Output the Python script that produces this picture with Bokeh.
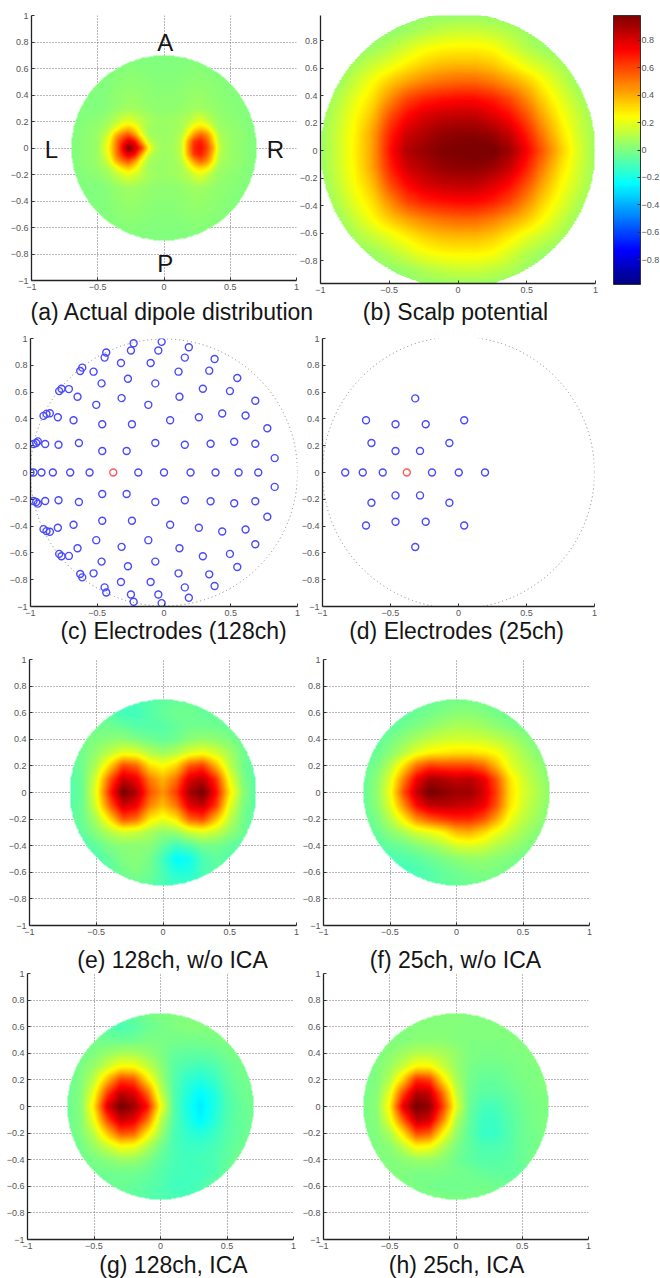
import numpy as np
from bokeh.embed import file_html
from bokeh.resources import INLINE
from bokeh.plotting import figure
from bokeh.layouts import column, row
from bokeh.models import (ColorBar, FixedTicker, Label, LinearColorMapper, Range1d)

FONT = "Liberation Sans"

# ---------- ticks ----------
x_ticks = [-1, -0.5, 0, 0.5, 1]
x_labels = ["\u22121", "\u22120.5", "0", "0.5", "1"]
y_ticks = [-1, -0.8, -0.6, -0.4, -0.2, 0, 0.2, 0.4, 0.6, 0.8, 1]
y_labels = ["\u22121", "\u22120.8", "\u22120.6", "\u22120.4", "\u22120.2", "0", "0.2", "0.4", "0.6", "0.8", "1"]
bar_ticks = [-0.8, -0.6, -0.4, -0.2, 0, 0.2, 0.4, 0.6, 0.8]
bar_labels = ["\u22120.8", "\u22120.6", "\u22120.4", "\u22120.2", "0", "0.2", "0.4", "0.6", "0.8"]

captions = ["(a) Actual dipole distribution", "(b) Scalp potential",
            "(c) Electrodes (128ch)", "(d) Electrodes (25ch)",
            "(e) 128ch, w/o ICA", "(f) 25ch, w/o ICA",
            "(g) 128ch, ICA", "(h) 25ch, ICA"]

# ---------- electrodes ----------
c128_x = [-0.2275, -0.0175, -0.2475, -0.0425, -0.4325, -0.445, -0.3225, -0.10, -0.6125, -0.6275, -0.5275, -0.27,
          -0.4675, -0.065, -0.7675, -0.785, -0.7125, -0.6475, -0.3175, -0.5075, -0.1175, -0.855, -0.88, -0.9025,
          -0.795, -0.6775, -0.4625, -0.24, -0.945, -0.9575, -0.9775, -0.89, -0.79, -0.6375, -0.065, -0.4625, -0.28,
          0.186, 0.156, 0.379, 0.109, 0.339, 0.549, 0.291, 0.494, 0.116, 0.684, 0.436, 0.261, 0.611, 0.046, 0.774,
          0.156, 0.349, 0.526, 0.684, 0.829,
          -1.0, -0.9775, -0.9175, -0.8325, -0.7025, -0.5575, -0.1925, 0.0, 0.199, 0.386, 0.559, 0.706,
          -0.2275, -0.0175, -0.2475, -0.0425, -0.4325, -0.445, -0.3225, -0.10, -0.6125, -0.6275, -0.5275, -0.27,
          -0.4675, -0.065, -0.7675, -0.785, -0.7125, -0.6475, -0.3175, -0.5075, -0.1175, -0.855, -0.88, -0.9025,
          -0.795, -0.6775, -0.4625, -0.24, -0.945, -0.9575, -0.9775, -0.89, -0.79, -0.6375, -0.065, -0.4625, -0.28,
          0.186, 0.156, 0.379, 0.109, 0.339, 0.549, 0.291, 0.494, 0.116, 0.684, 0.436, 0.261, 0.611, 0.046, 0.774,
          0.156, 0.349, 0.526, 0.684, 0.829]
c128_y = [0.965, 0.975, 0.91, 0.91, 0.895, 0.8575, 0.8175, 0.8175, 0.7825, 0.7575, 0.7525, 0.70,
          0.665, 0.665, 0.625, 0.6075, 0.6225, 0.565, 0.555, 0.505, 0.505, 0.4425, 0.4375, 0.4225,
          0.4125, 0.39, 0.36, 0.36, 0.2325, 0.22, 0.2125, 0.2125, 0.2075, 0.22, 0.22, 0.16, 0.16,
          0.935, 0.8575, 0.8475, 0.7525, 0.76, 0.705, 0.625, 0.6075, 0.565, 0.535, 0.44, 0.4125, 0.425, 0.39, 0.33,
          0.2075, 0.215, 0.23, 0.215, 0.1075,
          0, 0, 0, 0, 0, 0, 0, 0, 0, 0, 0, 0,
          -0.965, -0.975, -0.91, -0.91, -0.895, -0.8575, -0.8175, -0.8175, -0.7825, -0.7575, -0.7525, -0.70,
          -0.665, -0.665, -0.625, -0.6075, -0.6225, -0.565, -0.555, -0.505, -0.505, -0.4425, -0.4375, -0.4225,
          -0.4125, -0.39, -0.36, -0.36, -0.2325, -0.22, -0.2125, -0.2125, -0.2075, -0.22, -0.22, -0.16, -0.16,
          -0.935, -0.8575, -0.8475, -0.7525, -0.76, -0.705, -0.625, -0.6075, -0.565, -0.535, -0.44, -0.4125, -0.425, -0.39, -0.33,
          -0.2075, -0.215, -0.23, -0.215, -0.1075]
c25_x = [-0.318, -0.68, -0.463, -0.241, 0.042, -0.64, -0.067, -0.463, -0.283,
         -0.833, -0.704, -0.557, -0.195, 0.002, 0.195,
         -0.463, -0.283, -0.64, -0.067, -0.463, -0.241, -0.68, 0.042, -0.318]
c25_y = [0.553, 0.39, 0.36, 0.36, 0.39, 0.22, 0.22, 0.161, 0.161,
         0, 0, 0, 0, 0, 0,
         -0.171, -0.171, -0.226, -0.226, -0.367, -0.367, -0.395, -0.395, -0.556]
dipole_x = [-0.38]
dipole_y = [0]

# ---------- potential maps: rows run from top (+y) to bottom (-y) ----------
a_xs = [-0.7, -0.5, -0.42, -0.36, -0.32, -0.27, -0.22, -0.17, -0.12, -0.07, 0, 0.08, 0.13, 0.18, 0.23, 0.28, 0.33, 0.38, 0.42, 0.5, 0.7]
a_ys = [0.7, 0.3, 0.2, 0.15, 0.1, 0.05, 0, -0.05, -0.1, -0.15, -0.2, -0.3, -0.7]
a_rows = [
    [0, 0, 0, 0, 0, 0, 0, 0, 0, 0, 0, 0, 0, 0, 0, 0, 0, 0, 0, 0, 0],
    [0, 0, .02, .04, .05, .06, .06, .05, .04, .03, .03, .03, .04, .05, .06, .06, .05, .04, .03, .02, 0],
    [0, .03, .06, .12, .16, .2, .16, .12, .08, .06, .05, .06, .08, .1, .16, .2, .13, .08, .05, .03, 0],
    [0, .04, .1, .2, .3, .36, .28, .15, .06, .05, .05, .06, .07, .16, .28, .33, .28, .12, .06, .04, 0],
    [0, .05, .16, .4, .5, .58, .45, .22, .08, .06, .05, .06, .1, .26, .45, .55, .45, .25, .08, .05, 0],
    [0, .05, .22, .5, .65, .8, .72, .42, .14, .08, .05, .07, .12, .4, .64, .68, .55, .3, .1, .05, 0],
    [0, .05, .25, .5, .72, 1.0, .85, .65, .3, .1, .05, .08, .12, .42, .68, .72, .6, .38, .12, .05, 0],
    [0, .05, .22, .5, .65, .8, .72, .42, .14, .08, .05, .07, .12, .4, .64, .68, .55, .3, .1, .05, 0],
    [0, .05, .16, .4, .5, .58, .45, .22, .08, .06, .05, .06, .1, .26, .45, .55, .45, .25, .08, .05, 0],
    [0, .04, .1, .2, .3, .36, .28, .15, .06, .05, .05, .06, .07, .16, .28, .33, .28, .12, .06, .04, 0],
    [0, .03, .06, .12, .16, .2, .16, .12, .08, .06, .05, .06, .08, .1, .16, .2, .13, .08, .05, .03, 0],
    [0, 0, .02, .04, .05, .06, .06, .05, .04, .03, .03, .03, .04, .05, .06, .06, .05, .04, .03, .02, 0],
    [0, 0, 0, 0, 0, 0, 0, 0, 0, 0, 0, 0, 0, 0, 0, 0, 0, 0, 0, 0, 0],
]

b_xs = [-1, -.875, -.75, -.625, -.5, -.375, -.25, -.125, 0, .125, .25, .375, .5, .625, .75, .875, 1]
b_ys = [1, .875, .75, .625, .5, .375, .25, .125, 0, -.125, -.25, -.375, -.5, -.625, -.75, -.875, -1]
b_rows = [
    [.03, .03, .03, .03, .03, .03, .03, .03, .03, .03, .03, .03, .03, .03, .03, .03, .03],
    [.03, .03, .03, .03, .03, .05, .09, .12, .14, .14, .12, .09, .05, .03, .03, .03, .03],
    [.03, .03, .03, .05, .1, .16, .22, .25, .26, .26, .24, .17, .1, .05, .03, .03, .03],
    [.03, .03, .08, .14, .2, .27, .33, .37, .38, .38, .35, .28, .2, .14, .08, .03, .03],
    [.03, .05, .14, .24, .34, .42, .48, .52, .54, .54, .5, .43, .35, .24, .14, .05, .03],
    [.03, .1, .2, .3, .46, .6, .67, .7, .72, .72, .68, .6, .47, .32, .2, .1, .03],
    [.04, .13, .24, .36, .58, .72, .8, .84, .85, .85, .8, .72, .58, .4, .25, .14, .05],
    [.05, .15, .26, .42, .66, .82, .88, .93, .95, .95, .92, .84, .68, .48, .3, .16, .06],
    [.05, .15, .27, .42, .7, .88, .93, .97, .98, 1.0, 1.0, .92, .75, .55, .35, .18, .06],
    [.05, .15, .26, .42, .66, .82, .88, .93, .95, .95, .92, .84, .68, .48, .3, .16, .06],
    [.04, .13, .24, .36, .58, .72, .8, .84, .85, .85, .8, .72, .58, .4, .25, .14, .05],
    [.03, .1, .2, .3, .46, .6, .67, .7, .72, .72, .68, .6, .47, .32, .2, .1, .03],
    [.03, .05, .14, .24, .34, .42, .48, .52, .54, .54, .5, .43, .35, .24, .14, .05, .03],
    [.03, .03, .08, .14, .2, .27, .33, .37, .38, .38, .35, .28, .2, .14, .08, .03, .03],
    [.03, .03, .03, .05, .1, .16, .22, .25, .26, .26, .24, .17, .1, .05, .03, .03, .03],
    [.03, .03, .03, .03, .03, .05, .09, .12, .14, .14, .12, .09, .05, .03, .03, .03, .03],
    [.03, .03, .03, .03, .03, .03, .03, .03, .03, .03, .03, .03, .03, .03, .03, .03, .03],
]

g_xs = [-.7, -.6, -.5, -.4, -.3, -.2, -.1, 0, .1, .2, .3, .4, .5, .6, .7]
g_ys = [.7, .6, .5, .4, .3, .2, .1, 0, -.1, -.2, -.3, -.4, -.5, -.6, -.7]

e_rows = [
    [-.06, -.06, -.06, -.08, -.1, -.1, -.08, -.06, -.05, -.05, -.06, -.06, -.08, -.08, -.08],
    [-.05, -.05, -.05, -.08, -.12, -.12, -.08, -.05, -.03, -.03, -.05, -.05, -.08, -.08, -.08],
    [-.03, -.03, -.03, -.03, -.05, -.08, -.08, -.08, -.05, -.03, -.03, -.03, -.05, -.08, -.08],
    [-.03, -.02, 0, .02, .03, 0, -.03, -.05, -.03, .02, .04, .03, 0, -.05, -.08],
    [-.05, -.02, .04, .12, .2, .18, .1, .06, .1, .18, .22, .16, .07, -.02, -.08],
    [-.08, -.02, .1, .32, .6, .54, .3, .24, .32, .57, .62, .38, .12, -.02, -.08],
    [-.08, -.03, .18, .56, .84, .76, .5, .38, .52, .8, .86, .64, .22, 0, -.08],
    [-.1, -.03, .22, .66, 1.0, .88, .58, .45, .62, .9, 1.0, .72, .3, .03, -.08],
    [-.08, -.03, .18, .54, .82, .75, .48, .36, .5, .78, .84, .62, .2, 0, -.08],
    [-.08, -.03, .08, .3, .58, .52, .28, .2, .28, .54, .6, .36, .12, -.02, -.08],
    [-.1, -.05, .02, .1, .16, .14, .08, .03, .05, .14, .18, .13, .04, -.03, -.08],
    [-.12, -.1, -.05, 0, .02, .02, .02, -.05, -.12, -.08, -.02, -.02, -.05, -.08, -.1],
    [-.12, -.12, -.1, -.05, 0, .02, -.02, -.12, -.25, -.22, -.1, -.06, -.08, -.1, -.1],
    [-.1, -.1, -.1, -.08, -.02, 0, -.03, -.1, -.18, -.18, -.1, -.07, -.08, -.1, -.1],
    [-.1, -.1, -.1, -.08, -.06, -.05, -.06, -.1, -.12, -.12, -.1, -.08, -.08, -.1, -.1],
]

f_rows = [
    [-.08, -.08, -.08, -.06, -.05, -.04, -.03, -.02, -.02, -.02, -.03, -.04, -.05, -.05, -.05],
    [-.08, -.08, -.08, -.06, -.04, -.02, 0, .02, .02, 0, -.02, -.04, -.05, -.05, -.05],
    [-.08, -.08, -.06, -.03, 0, .03, .06, .08, .08, .06, .03, 0, -.02, -.04, -.05],
    [-.08, -.06, -.02, .03, .08, .12, .15, .16, .16, .15, .12, .08, .03, -.01, -.04],
    [-.06, -.04, .02, .1, .2, .26, .28, .3, .3, .28, .24, .16, .08, .02, -.02],
    [-.05, -.01, .1, .3, .52, .62, .6, .6, .6, .54, .38, .2, .12, .06, 0],
    [-.05, .02, .18, .48, .76, .9, .88, .84, .86, .78, .58, .3, .16, .08, .02],
    [-.05, .03, .22, .58, .85, 1.0, .96, .92, .92, .82, .62, .32, .18, .1, .03],
    [-.05, .02, .18, .45, .72, .84, .86, .84, .82, .76, .58, .3, .16, .08, .02],
    [-.06, -.01, .1, .26, .46, .56, .62, .66, .66, .58, .42, .22, .12, .06, 0],
    [-.07, -.04, .02, .08, .16, .2, .26, .38, .4, .32, .22, .14, .07, .02, -.01],
    [-.1, -.08, -.05, -.03, .01, .05, .1, .16, .18, .16, .1, .06, .02, -.01, -.03],
    [-.1, -.1, -.1, -.09, -.07, -.04, -.01, .02, .04, .04, .02, 0, -.02, -.03, -.04],
    [-.1, -.1, -.1, -.12, -.1, -.08, -.05, -.03, -.01, 0, -.01, -.02, -.03, -.04, -.05],
    [-.08, -.08, -.08, -.08, -.08, -.08, -.06, -.05, -.04, -.03, -.03, -.03, -.04, -.05, -.05],
]

g_rows = [
    [0, 0, 0, -.04, -.05, -.04, -.02, 0, 0, 0, 0, 0, 0, 0, 0],
    [-.02, -.02, -.05, -.08, -.1, -.08, -.04, -.02, 0, .01, .01, .01, .01, 0, 0],
    [-.02, -.02, -.02, -.03, -.04, -.03, -.01, -.01, -.02, -.02, -.02, -.01, 0, 0, 0],
    [-.02, -.02, 0, .04, .08, .08, .04, 0, -.05, -.06, -.06, -.05, -.02, -.01, 0],
    [-.03, -.01, .05, .15, .25, .24, .14, .03, -.07, -.1, -.12, -.1, -.05, -.02, -.01],
    [-.04, 0, .12, .38, .62, .58, .3, .07, -.08, -.15, -.18, -.14, -.07, -.03, -.02],
    [-.04, .01, .22, .62, .86, .8, .55, .14, -.08, -.18, -.25, -.19, -.09, -.04, -.02],
    [-.04, .01, .3, .8, 1.0, .92, .72, .24, -.08, -.2, -.28, -.2, -.1, -.05, -.03],
    [-.04, .01, .22, .6, .84, .78, .53, .12, -.08, -.18, -.26, -.18, -.09, -.05, -.03],
    [-.04, 0, .12, .36, .58, .55, .28, .06, -.1, -.15, -.18, -.14, -.08, -.05, -.03],
    [-.04, -.02, .05, .14, .24, .22, .1, -.02, -.1, -.13, -.13, -.11, -.07, -.04, -.03],
    [-.04, -.03, -.01, .02, .05, .05, 0, -.06, -.1, -.12, -.11, -.1, -.06, -.02, 0],
    [-.04, -.04, -.03, -.03, -.03, -.03, -.05, -.08, -.11, -.12, -.12, -.1, -.04, .02, .03],
    [-.04, -.04, -.04, -.04, -.04, -.05, -.07, -.09, -.12, -.12, -.1, -.05, 0, .03, .03],
    [-.04, -.04, -.04, -.04, -.05, -.06, -.08, -.09, -.1, -.1, -.08, -.04, 0, .02, .02],
]

h_rows = [
    [.01, .01, .01, .01, .01, .01, .01, .01, .01, .01, .01, .01, .01, .01, .01],
    [.01, .01, .01, .01, .01, .01, .01, .01, 0, 0, 0, 0, 0, 0, 0],
    [0, 0, 0, 0, .02, .02, .02, .01, 0, 0, 0, 0, 0, 0, 0],
    [0, 0, .02, .06, .1, .1, .08, .04, 0, -.01, -.01, 0, 0, 0, 0],
    [0, 0, .05, .14, .26, .26, .14, .05, -.01, -.03, -.03, -.02, 0, 0, 0],
    [-.01, 0, .1, .34, .66, .62, .3, .08, -.02, -.05, -.05, -.03, -.01, 0, 0],
    [-.01, .01, .2, .6, .88, .84, .52, .14, -.03, -.07, -.07, -.05, -.02, 0, 0],
    [-.01, .02, .27, .78, 1.0, .94, .62, .2, -.04, -.11, -.11, -.07, -.03, -.01, 0],
    [-.01, .01, .2, .56, .86, .82, .48, .1, -.05, -.13, -.13, -.08, -.04, -.01, 0],
    [-.01, 0, .08, .3, .6, .56, .26, .04, -.06, -.14, -.14, -.09, -.04, -.02, 0],
    [0, 0, .02, .12, .26, .24, .1, 0, -.06, -.1, -.1, -.08, -.04, -.02, 0],
    [0, 0, 0, .02, .05, .05, .02, -.03, -.06, -.08, -.08, -.07, -.04, -.01, 0],
    [0, 0, 0, 0, -.01, -.01, -.01, -.02, -.03, -.05, -.06, -.06, -.05, -.03, -.01],
    [0, 0, 0, 0, -.01, -.02, -.03, -.03, -.03, -.02, -.03, -.03, -.02, -.01, 0],
    [0, 0, 0, 0, 0, 0, 0, -.01, -.01, -.01, -.01, -.01, 0, 0, 0],
]

# ---------- colour ----------
pos = np.linspace(0, 1, 256)
red = np.interp(pos, [0, .375, .625, .875, 1], [0, 0, 1, 1, .5])
green = np.interp(pos, [0, .125, .375, .625, .875, 1], [0, 0, 1, 1, 0, 0])
blue = np.interp(pos, [0, .125, .375, .625, 1], [.5, 1, 1, 0, 0])
jet = ["#%02x%02x%02x" % (int(r * 255), int(g * 255), int(b * 255)) for r, g, b in zip(red, green, blue)]
mapper = LinearColorMapper(palette=jet, low=-0.98, high=0.98, nan_color="rgba(0,0,0,0)")

N = 401
grid = np.linspace(-1, 1, N)


def smooth(a, w=9):
    k = np.ones(w) / w
    pad = w // 2
    a = np.pad(a, pad, mode="edge")
    a = np.apply_along_axis(lambda v: np.convolve(v, k, mode="valid"), 0, a)
    a = np.apply_along_axis(lambda v: np.convolve(v, k, mode="valid"), 1, a)
    return a


def field(xs, ys, rows, radius, w=9):
    z = np.array(rows, dtype=float)[::-1]
    ya = np.array(ys, dtype=float)[::-1]
    across = np.array([np.interp(grid, xs, r) for r in z])
    full = np.array([np.interp(grid, ya, c) for c in across.T]).T
    full = smooth(full, w)
    xx, yy = np.meshgrid(grid, grid)
    full[xx ** 2 + yy ** 2 > radius ** 2] = np.nan
    return full.astype(np.float32)


def panel(left, top, fw, fh, right, bottom, yr=(-1, 1), yt=y_ticks, yl=y_labels, gridlines=True, shift=0):
    p = figure(frame_width=fw, frame_height=fh, x_range=Range1d(-1, 1), y_range=Range1d(*yr),
               toolbar_location=None, output_backend="svg",
               min_border_left=left, min_border_top=top, min_border_right=right, min_border_bottom=bottom,
               background_fill_color=None, border_fill_color=None, outline_line_color=None)
    if shift:
        p.margin = (0, 0, 0, shift)
    for ax, ticks, labels in ((p.xaxis[0], x_ticks, x_labels), (p.yaxis[0], yt, yl)):
        ax.ticker = FixedTicker(ticks=ticks)
        ax.major_label_overrides = dict(zip(ticks, labels))
        ax.major_label_text_font = FONT
        ax.major_label_text_font_size = "9px"
        ax.major_label_text_color = "#555555"
        ax.major_tick_in = 3
        ax.major_tick_out = 0
        ax.major_tick_line_color = "#333333"
        ax.minor_tick_line_color = None
        ax.axis_line_color = "#222222"
        ax.axis_line_width = 1.3
        ax.major_label_standoff = 3
    if gridlines:
        p.grid.grid_line_color = "#707070"
        p.grid.grid_line_dash = "1 2"
        p.grid.grid_line_width = 1
        p.xgrid.ticker = FixedTicker(ticks=x_ticks)
        p.ygrid.ticker = FixedTicker(ticks=yt)
    else:
        p.grid.visible = False
    return p


def heat(p, xs, ys, rows, radius=0.7, w=5):
    p.image(image=[field(xs, ys, rows, radius, w)], x=-1, y=-1, dw=2, dh=2, color_mapper=mapper)


def strip(height, entries, baseline, over_top=10, over_bottom=6):
    total = height + over_top + over_bottom
    s = figure(width=660, height=total, x_range=Range1d(0, 660), y_range=Range1d(-over_bottom, height + over_top),
               toolbar_location=None, output_backend="svg", min_border=0,
               background_fill_color=None, border_fill_color=None, outline_line_color=None)
    s.axis.visible = False
    s.grid.visible = False
    for text, cx in entries:
        s.add_layout(Label(x=cx, y=baseline, text=text, text_align="center", text_baseline="alphabetic",
                           text_font=FONT, text_font_size="23px", text_color="#151515"))
    s.margin = (-over_top, 0, -over_bottom, 0)
    return s


# ---------- row 1 ----------
pa = panel(31, 15, 265, 265, 6, 18)
heat(pa, a_xs, a_ys, a_rows, w=5)
for txt, lx, ly in (("A", 0.01, 0.8), ("L", -0.85, -0.01), ("R", 0.84, -0.01), ("P", 0.01, -0.87)):
    pa.add_layout(Label(x=lx, y=ly, text=txt, text_align="center", text_baseline="middle",
                        text_font=FONT, text_font_size="24px", text_color="#151515"))

b_y_ticks = y_ticks[1:-1]
b_y_labels = y_labels[1:-1]
pb = panel(30, 15, 275, 268, 65, 15, yr=(-133 / 137.5, 135 / 137.5), yt=b_y_ticks, yl=b_y_labels,
           gridlines=False, shift=-12)
heat(pb, b_xs, b_ys, b_rows, radius=1.0, w=9)
cbar = ColorBar(color_mapper=mapper, ticker=FixedTicker(ticks=bar_ticks),
                major_label_overrides=dict(zip(bar_ticks, bar_labels)),
                width=27, height=269, padding=0, margin=0, location=(293, -1),
                major_label_text_font=FONT, major_label_text_font_size="9px", major_label_text_color="#555555",
                major_tick_in=3, major_tick_line_color="#333333", minor_tick_line_color=None,
                bar_line_color="#333333", label_standoff=1, background_fill_color=None, border_line_color=None)
pb.add_layout(cbar)

# ---------- row 2 ----------
pc = panel(30, 8, 267, 268, 6, 14, gridlines=False)
pc.circle(x=[0], y=[0], radius=1, fill_color=None, line_color="#808080", line_dash="1 3", line_width=1)
pc.scatter(c128_x, c128_y, marker="circle", size=7, fill_color=None, line_color="#4a4aff", line_width=1.4)
pc.scatter(dipole_x, dipole_y, marker="circle", size=7, fill_color=None, line_color="#ff5a5a", line_width=1.4)

pd = panel(30, 6, 272, 268, 6, 16, gridlines=False, shift=-11)
pd.circle(x=[0], y=[0], radius=1, fill_color=None, line_color="#808080", line_dash="1 3", line_width=1)
pd.scatter(c25_x, c25_y, marker="circle", size=7, fill_color=None, line_color="#4a4aff", line_width=1.4)
pd.scatter(dipole_x, dipole_y, marker="circle", size=7, fill_color=None, line_color="#ff5a5a", line_width=1.4)

# ---------- row 3 ----------
pe = panel(29, 7, 267, 266, 6, 17)
heat(pe, g_xs, g_ys, e_rows)
pf = panel(30, 9, 266, 266, 6, 15, shift=-9)
heat(pf, g_xs, g_ys, f_rows)

# ---------- row 4 ----------
pg = panel(27, 6, 266, 266, 6, 17)
heat(pg, g_xs, g_ys, g_rows)
ph = panel(30, 6, 265, 266, 6, 17, shift=-6)
heat(ph, g_xs, g_ys, h_rows)

s1 = strip(32, [(captions[0], 172), (captions[1], 455)], 19)
s2 = strip(30, [(captions[2], 173), (captions[3], 456)], 20)
s3 = strip(27, [(captions[4], 172), (captions[5], 455)], 8)
s4 = strip(22, [(captions[6], 173), (captions[7], 456)], 14, over_bottom=0)

page = column(row(pa, pb, spacing=0), s1, row(pc, pd, spacing=0), s2,
              row(pe, pf, spacing=0), s3, row(pg, ph, spacing=0), s4, spacing=0)

open("out.html", "w").write(file_html(page, INLINE))
